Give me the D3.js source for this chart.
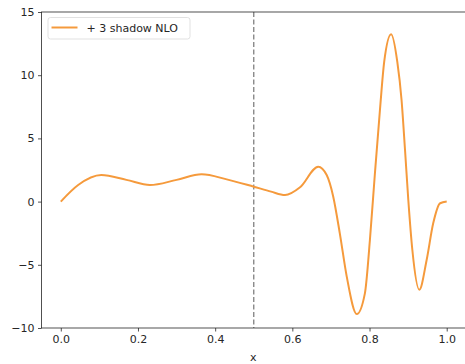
<!DOCTYPE html>
<html>
<head>
<meta charset="utf-8">
<script src="https://cdn.jsdelivr.net/npm/d3@7"></script>
<style>
  body { margin: 0; background: #fff; }
  svg { display: block; }
  text { font-family: "DejaVu Sans", sans-serif; fill: #262626; }
</style>
</head>
<body>
<div id="chart"></div>
<script>
// curve samples
const xs = [0, 0.045, 0.105, 0.17, 0.231, 0.30, 0.365, 0.43, 0.5, 0.545, 0.581, 0.62, 0.667,
  0.689, 0.706, 0.723, 0.741, 0.767, 0.788, 0.801, 0.814, 0.827, 0.838, 0.856, 0.872, 0.883,
  0.892, 0.9005, 0.911, 0.929, 0.948, 0.965, 0.983, 1.0];
const ys = [0, 1.31, 2.1, 1.72, 1.31, 1.72, 2.16, 1.76, 1.18, 0.79, 0.52, 1.13, 2.76,
  2.1, 0.39, -2.51, -5.94, -8.9, -7.26, -3.04, 2.24, 7.25, 11.05, 13.24, 11.05, 8.04,
  4.08, 0.13, -3.83, -6.97, -4.62, -1.72, -0.13, 0];
const xTicks = [0, 0.2, 0.4, 0.6, 0.8, 1.0];
const yTicks = [-10, -5, 0, 5, 10, 15];
const seriesName = '+ 3 shadow NLO';
const splitX = 0.5;

const W = 465, H = 364;
const m = { left: 41.5, right: 466, top: 12, bottom: 328 };

const x = d3.scaleLinear().domain([-0.05, 1.05]).range([m.left, m.right]);
const y = d3.scaleLinear().domain([-10, 15]).range([m.bottom, m.top]);

const svg = d3.select('#chart').append('svg')
  .attr('width', W)
  .attr('height', H);

// dashed split line
svg.append('line')
  .attr('x1', x(splitX)).attr('x2', x(splitX))
  .attr('y1', m.top).attr('y2', m.bottom)
  .attr('stroke', '#808080')
  .attr('stroke-width', 1.3)
  .attr('stroke-dasharray', '5,2.5');

const pts = xs.map((d, i) => [d, ys[i]]);
const line = d3.line()
  .x(d => x(d[0]))
  .y(d => y(d[1]))
  .curve(d3.curveMonotoneX);

svg.append('path')
  .datum(pts)
  .attr('d', line)
  .attr('fill', 'none')
  .attr('stroke', '#f59a3c')
  .attr('stroke-width', 2)
  .attr('stroke-linejoin', 'round');

// axes
const fmtY = d => d < 0 ? '\u2212' + Math.abs(d) : String(d);
const xAxis = svg.append('g')
  .attr('transform', `translate(0,${m.bottom})`)
  .call(d3.axisBottom(x).tickValues(xTicks).tickFormat(d3.format('.1f')).tickSize(3.5).tickPadding(3.5));
const yAxis = svg.append('g')
  .attr('transform', `translate(${m.left},0)`)
  .call(d3.axisLeft(y).tickValues(yTicks).tickFormat(fmtY).tickSize(3.5).tickPadding(3.5));

[xAxis, yAxis].forEach(g => {
  g.select('.domain').remove();
  g.selectAll('line').attr('stroke', '#262626').attr('stroke-width', 0.8);
  g.selectAll('text').attr('font-size', 11).attr('fill', '#262626')
    .style('font-family', '"DejaVu Sans", sans-serif');
});

// spines
svg.append('rect')
  .attr('x', m.left).attr('y', m.top)
  .attr('width', m.right - m.left).attr('height', m.bottom - m.top)
  .attr('fill', 'none')
  .attr('stroke', '#262626')
  .attr('stroke-width', 0.8);

svg.append('text')
  .attr('x', (m.left + m.right) / 2 - 0.5)
  .attr('y', 361)
  .attr('text-anchor', 'middle')
  .attr('font-size', 11)
  .text('x');

// legend
const lg = svg.append('g').attr('transform', 'translate(48,17.5)');
lg.append('rect')
  .attr('width', 142).attr('height', 21.5)
  .attr('rx', 2.5)
  .attr('fill', '#fff')
  .attr('fill-opacity', 0.8)
  .attr('stroke', '#d9d9d9')
  .attr('stroke-width', 0.8);
lg.append('line')
  .attr('x1', 3.5).attr('x2', 29.5)
  .attr('y1', 10).attr('y2', 10)
  .attr('stroke', '#f59a3c')
  .attr('stroke-width', 2);
lg.append('text')
  .attr('x', 38.5).attr('y', 14)
  .attr('font-size', 11)
  .text(seriesName);
</script>
</body>
</html>
